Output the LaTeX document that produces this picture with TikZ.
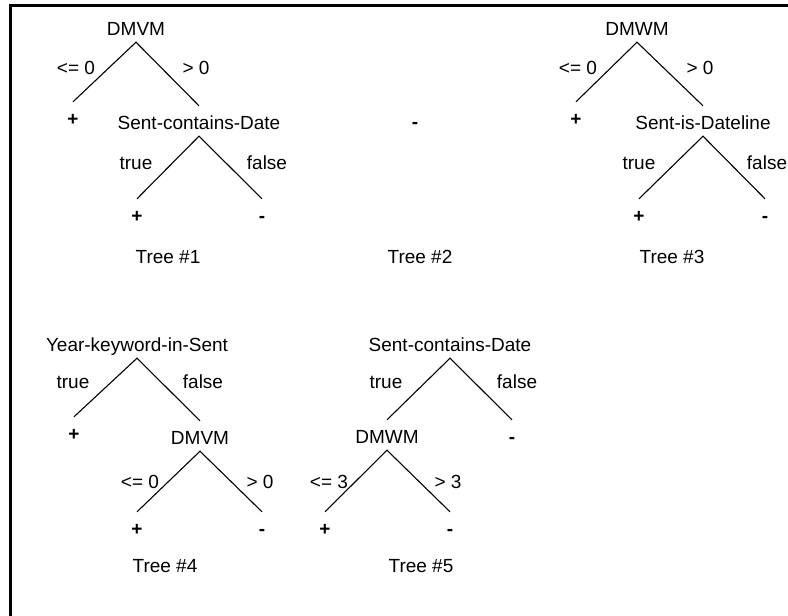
\documentclass[tikz,border=0pt]{standalone}
\usepackage{fontspec}
\setmainfont{Liberation Sans}
\usepackage{tikz}

\tikzset{
  tnode/.style={anchor=base, inner sep=0pt, text height=23pt, text depth=7pt},
  leaf/.style={tnode, font=\fontsize{19}{22}\selectfont\bfseries},
  elbl/.style={anchor=base, inner sep=0pt},
  branch/.style={line width=1.1pt},
}

\begin{document}
\begin{tikzpicture}[x=1pt,y=-1pt,font=\fontsize{19}{22}\selectfont]
\useasboundingbox (0,0) rectangle (788,616);
\draw[line width=3pt] (10,616) -- (10,5.5) -- (788,5.5);

% tree 1
\node[tnode] (a) at (136,35) {DMVM};
\node[leaf] (a1) at (73,125) {+};
\node[tnode] (a2) at (199,129) {Sent-contains-Date};
\node[leaf] (a21) at (137,222) {+};
\node[leaf] (a22) at (262,222) {-};
\draw[branch] (a1.north) -- (a.south) -- (a2.north);
\draw[branch] (a21.north) -- (a2.south) -- (a22.north);
\node[elbl] at (76,74) {<= 0}; \node[elbl] at (196,74) {> 0};
\node[elbl] at (136,169) {true}; \node[elbl] at (267,169) {false};
\node[elbl] (n1) at (168,263) {Tree \#1};

% tree 2
\node[leaf] (b) at (415,128) {-};
\node[elbl] (n2) at (420,263) {Tree \#2};

% tree 3
\node[tnode] (c) at (637,35) {DMWM};
\node[leaf] (c1) at (576,125) {+};
\node[tnode] (c2) at (703,129) {Sent-is-Dateline};
\node[leaf] (c21) at (639,222) {+};
\node[leaf] (c22) at (765,222) {-};
\draw[branch] (c1.north) -- (c.south) -- (c2.north);
\draw[branch] (c21.north) -- (c2.south) -- (c22.north);
\node[elbl] at (578,74) {<= 0}; \node[elbl] at (700,74) {> 0};
\node[elbl] at (639,169) {true}; \node[elbl] at (767,169) {false};
\node[elbl] (n3) at (672,263) {Tree \#3};

% tree 4
\node[tnode] (d) at (137,351) {Year-keyword-in-Sent};
\node[leaf] (d1) at (74,440) {+};
\node[tnode] (d2) at (200,444) {DMVM};
\node[leaf] (d21) at (137,535) {+};
\node[leaf] (d22) at (262,535) {-};
\draw[branch] (d1.north) -- (d.south) -- (d2.north);
\draw[branch] (d21.north) -- (d2.south) -- (d22.north);
\node[elbl] at (73,388) {true}; \node[elbl] at (203,388) {false};
\node[elbl] at (140,488) {<= 0}; \node[elbl] at (260,488) {> 0};
\node[elbl] (n4) at (165,572) {Tree \#4};

% tree 5
\node[tnode] (e) at (450,351) {Sent-contains-Date};
\node[tnode] (e1) at (387,443) {DMWM};
\node[leaf] (e2) at (512,443) {-};
\node[leaf] (e11) at (325,535) {+};
\node[leaf] (e12) at (450,535) {-};
\draw[branch] (e1.north) -- (e.south) -- (e2.north);
\draw[branch] (e11.north) -- (e1.south) -- (e12.north);
\node[elbl] at (386,388) {true}; \node[elbl] at (517,388) {false};
\node[elbl] at (329,488) {<= 3}; \node[elbl] at (448,488) {> 3};
\node[elbl] (n5) at (421,572) {Tree \#5};
\end{tikzpicture}
\end{document}
